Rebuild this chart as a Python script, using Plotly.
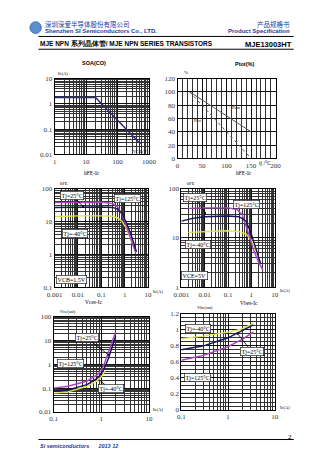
import math
import plotly.graph_objects as go

W, H = 336, 474

# ---------------- data ----------------
# SOA (DC)
soa_vce = [1, 20, 540]
soa_ic = [1.8, 1.8, 0.026]
soa_xticks = [1, 10, 100, 1000]
soa_xtext = ["1", "10", "100", "1000"]
soa_yticks = [0.01, 0.1, 1, 10]
soa_ytext = ["0.01", "0.1", "1", "10"]

# Ptot derating
ptot_t = [25, 150]
ptot_upper = [100, 40]
ptot_lower = [100, 0]
ptot_xticks = [0, 50, 100, 150, 200]
ptot_yticks = [0, 20, 40, 60, 80, 100, 120]

# hFE-Ic, VCE=1.5V
hfe1_ic_125 = [0.001, 0.01, 0.1, 0.3, 0.5, 0.8, 1.2, 2.0, 3.0]
hfe1_125 = [38, 39, 39, 36, 28, 16, 7, 2.5, 1.1]
hfe1_ic_25 = [0.001, 0.01, 0.1, 0.3, 0.5, 0.8, 1.2, 2.0, 3.2]
hfe1_25 = [27, 28, 28, 27, 24, 17, 9, 3.5, 1.2]
hfe1_ic_m40 = [0.001, 0.01, 0.1, 0.3, 0.5, 0.8, 1.2, 2.0, 3.0]
hfe1_m40 = [14, 15, 15, 14.5, 13, 10, 6, 2.5, 1.2]

# hFE-Ic, VCE=5V
hfe2_ic_125 = [0.002, 0.01, 0.1, 0.25, 0.4, 0.7, 1.2, 2.0, 3.2]
hfe2_125 = [40, 41, 41, 38, 30, 14, 6, 3.3, 2.2]
hfe2_ic_25 = [0.001, 0.003, 0.01, 0.1, 0.3, 0.6, 1.0, 1.5, 2.5]
hfe2_25 = [22, 25, 27, 28, 27, 22, 12, 6.5, 3.0]
hfe2_ic_m40 = [0.002, 0.01, 0.1, 0.3, 0.6, 1.0, 1.5, 2.5]
hfe2_m40 = [13, 13.5, 14, 13.5, 12, 9, 6, 3]

ic_ticks = [0.001, 0.01, 0.1, 1, 10]
ic_text = ["0.001", "0.01", "0.1", "1", "10"]

# Vce(sat)-Ic
vce_ic_125 = [0.1, 0.2, 0.5, 0.8, 1.0, 1.2, 1.5, 1.75, 2.0]
vce_125 = [0.1, 0.12, 0.2, 0.35, 0.55, 1.3, 4.5, 11, 23]
vce_ic_25 = [0.1, 0.2, 0.5, 0.8, 1.0, 1.2, 1.4, 1.7, 2.0]
vce_25 = [0.075, 0.085, 0.14, 0.25, 0.4, 0.8, 1.7, 6, 15]
vce_ic_m40 = [0.1, 0.2, 0.5, 0.8, 1.0, 1.2]
vce_m40 = [0.062, 0.07, 0.12, 0.2, 0.3, 0.55]

# Vbe(sat)-Ic
vbe_ic = [0.1, 0.3, 1, 2, 3.5]
vbe_m40 = [0.89, 0.92, 0.97, 1.01, 1.08]
vbe_25 = [0.75, 0.80, 0.90, 0.99, 1.06]
vbe_125 = [0.62, 0.68, 0.79, 0.88, 0.97]

ic2_ticks = [0.1, 1, 10]
ic2_text = ["0.1", "1", "10"]
vce_yticks = [0.01, 0.1, 1, 10, 100]
vce_ytext = ["0.01", "0.1", "1", "10", "100"]
vbe_yticks = [0, 0.2, 0.4, 0.6, 0.8, 1.0, 1.2]
vbe_ytext = ["0", "0.2", "0.4", "0.6", "0.8", "1", "1.2"]

C125 = "#b040c8"
C25 = "#14145a"
CM40 = "#e2e24a"
SERIF = "Liberation Serif"
SANS = "Liberation Sans"


def px(x):
    return x / W


def py(y):
    return 1 - y / H


fig = go.Figure()

# panel domains in pixels: (x0, x1, ytop, ybottom)
panels = {
    1: (49, 148, 76, 153),
    2: (178, 281, 76, 157),
    3: (49, 147, 188, 288),
    4: (182, 280, 188, 288),
    5: (48, 148, 318, 415),
    6: (182, 280, 315, 413),
}

tickfont = dict(family=SERIF, size=7, color="#333")


def log_axis(tv, tt, rng):
    return dict(
        type="log", range=rng, tickmode="array", tickvals=tv, ticktext=tt,
        showgrid=True, gridcolor="#111", gridwidth=0.8,
        minor=dict(showgrid=True, dtick="D1", gridcolor="#333", gridwidth=0.5),
        showline=True, linecolor="#000", linewidth=1, mirror=True,
        ticks="", tickfont=tickfont, zeroline=False, ticklen=0,
    )


def lin_axis(tv, tt, rng, minor_dtick=None):
    d = dict(
        type="linear", range=rng, tickmode="array", tickvals=tv, ticktext=tt,
        showgrid=True, gridcolor="#111", gridwidth=0.8,
        showline=True, linecolor="#000", linewidth=1, mirror=True,
        ticks="", tickfont=tickfont, zeroline=False,
    )
    if minor_dtick:
        d["minor"] = dict(showgrid=True, dtick=minor_dtick, gridcolor="#333", gridwidth=0.5)
    return d


axes = {
    1: (log_axis(soa_xticks, soa_xtext, [0, 3]), log_axis(soa_yticks, soa_ytext, [-2, 1])),
    2: (lin_axis(ptot_xticks, [str(v) for v in ptot_xticks], [0, 200], 10),
        lin_axis(ptot_yticks, [str(v) for v in ptot_yticks], [0, 120])),
    3: (log_axis(ic_ticks, ic_text, [-3, 1]), log_axis([0.1, 1, 10, 100], ["0.1", "1", "10", "100"], [-1, 2])),
    4: (log_axis(ic_ticks, ic_text, [-3, 1]), log_axis([1, 10, 100], ["1", "10", "100"], [0, 2])),
    5: (log_axis(ic2_ticks, ic2_text, [-1, 1]), log_axis(vce_yticks, vce_ytext, [-2, 2])),
    6: (log_axis(ic2_ticks, ic2_text, [-1, 1]), lin_axis(vbe_yticks, vbe_ytext, [0, 1.2], 0.05)),
}

layout_axes = {}
for i, (x0, x1, yt, yb) in panels.items():
    xa, ya = axes[i]
    sfx = "" if i == 1 else str(i)
    xa.update(domain=[px(x0), px(x1)], anchor="y" + sfx)
    ya.update(domain=[py(yb), py(yt)], anchor="x" + sfx)
    layout_axes["xaxis" + sfx] = xa
    layout_axes["yaxis" + sfx] = ya


def add(x, y, i, color, width=1.4, dash="solid"):
    sfx = "" if i == 1 else str(i)
    fig.add_trace(go.Scatter(x=x, y=y, mode="lines", xaxis="x" + sfx, yaxis="y" + sfx,
                             line=dict(color=color, width=width, dash=dash),
                             hoverinfo="skip", showlegend=False))


add(soa_vce, soa_ic, 1, "#2a2a7a", 1.4)
add(ptot_t, ptot_upper, 2, "#555", 1.0)
add(ptot_t, ptot_lower, 2, "#555", 1.0, "dot")
add(hfe1_ic_m40, hfe1_m40, 3, CM40)
add(hfe1_ic_125, hfe1_125, 3, C125)
add(hfe1_ic_25, hfe1_25, 3, C25)
add(hfe2_ic_m40, hfe2_m40, 4, CM40)
add(hfe2_ic_125, hfe2_125, 4, C125)
add(hfe2_ic_25, hfe2_25, 4, C25)
add(vce_ic_m40, vce_m40, 5, CM40)
add(vce_ic_125, vce_125, 5, C125)
add(vce_ic_25, vce_25, 5, C25)
add(vbe_ic, vbe_m40, 6, CM40)
add(vbe_ic, vbe_125, 6, C125)
add(vbe_ic, vbe_25, 6, C25)

ann = []


def text(x, y, s, size=6, color="#000", family=SANS, anchor="center", bold=False, italic=False, yanchor="middle"):
    if bold:
        s = "<b>" + s + "</b>"
    if italic:
        s = "<i>" + s + "</i>"
    ann.append(dict(x=px(x), y=py(y), xref="paper", yref="paper", text=s, showarrow=False,
                    xanchor=anchor, yanchor=yanchor,
                    font=dict(size=size, color=color, family=family)))


def box(x, y, s, head=None):
    d = dict(x=px(x), y=py(y), xref="paper", yref="paper", text=s, showarrow=False,
             xanchor="center", yanchor="middle", bgcolor="#fff", bordercolor="#000",
             borderwidth=0.6, borderpad=1, font=dict(size=6, color="#000", family=SERIF))
    if head is not None:
        d.update(x=px(head[0]), y=py(head[1]), showarrow=True, arrowhead=2, arrowsize=0.6,
                 arrowwidth=0.8, arrowcolor="#000", ax=x - head[0], ay=y - head[1],
                 standoff=0)
    ann.append(d)


# header
text(37, 20, "深圳深爱半导体股份有限公司", size=6.5, color="#1e3c9c", family="Noto Sans CJK SC", anchor="left")
text(37, 27, "Shenzhen SI Semiconductors Co., LTD.", size=6, color="#1e3c9c", anchor="left", bold=True)
text(298, 20, "产品规格书", size=6.5, color="#1e3c9c", family="Noto Sans CJK SC", anchor="right")
text(298, 27, "Product Specification", size=6, color="#1e3c9c", anchor="right", bold=True)
text(32, 41, "MJE NPN 系列晶体管/ MJE NPN SERIES TRANSISTORS", size=6.5, anchor="left", bold=True)
text(300, 41, "MJE13003HT", size=7.5, anchor="right", bold=True)

# footer
text(32, 450, "Si semiconductors      2013 12", size=5.5, color="#1e3c9c", anchor="left", bold=True, italic=True)
text(300, 440, "2", size=7, anchor="right", family=SERIF)

# chart titles
text(90, 60, "SOA(CO)", size=5.5, bold=True)
text(248, 61, "Ptot(%)", size=5.5, bold=True)
text(88, 172, "hFE-Ic", size=5.5, family=SERIF)
text(248, 172, "hFE-Ic", size=5.5, family=SERIF)
text(90, 303, "Vces-Ic", size=5.5, family=SERIF)
text(253, 304, "Vbes-Ic", size=5.5, family=SERIF)

# axis unit hints
text(50, 71, "Ic(A)", size=4.5, anchor="left", family=SERIF)
text(140, 150, "VCE(V)", size=4.5, family=SERIF)
text(183, 70, "%", size=5, anchor="left", family=SERIF)
text(270, 162, "tj /°C", size=5.5, family=SERIF)
text(52, 183, "hFE", size=4.5, anchor="left", family=SERIF)
text(186, 183, "hFE", size=4.5, anchor="left", family=SERIF)
text(150, 292, "Ic(A)", size=4.5, anchor="left", family=SERIF)
text(283, 291, "Ic(A)", size=4.5, anchor="left", family=SERIF)
text(52, 313, "Vce(sat)", size=4.5, anchor="left", family=SERIF)
text(196, 309, "Vbe(sat)", size=4.5, anchor="left", family=SERIF)
text(150, 412, "Ic(A)", size=4.5, anchor="left", family=SERIF)
text(283, 410, "Ic(A)", size=4.5, anchor="left", family=SERIF)

# Ptot curve labels
text(240, 105, "Pcm", size=4.5, family=SERIF)
text(200, 119, "Pcu", size=4.5, family=SERIF)

# annotations
box(68, 195, "Tj=25°C", head=(80, 207))
box(125, 198, "Tj=125°C")
box(70, 233, "Tj=-40°C")
box(67, 280, "VCB=1.5V")

box(197, 197, "Tj=25°C", head=(208, 214))
box(250, 204, "Tj=125°C")
box(200, 245, "Tj=-40°C")
box(196, 276, "VCE=5V")

box(84, 340, "Tj=25°C", head=(107, 358))
box(66, 366, "Tj=125°C")
box(108, 391, "Tj=-40°C", head=(97, 384))

box(200, 330, "Tj=-40°C")
box(255, 353, "Tj=25°C", head=(240, 334))
box(199, 380, "Tj=125°C")

shapes = [
    dict(type="line", xref="paper", yref="paper", x0=px(32), x1=px(300), y0=py(33), y1=py(33),
         line=dict(color="#000", width=1)),
    dict(type="line", xref="paper", yref="paper", x0=px(32), x1=px(300), y0=py(46), y1=py(46),
         line=dict(color="#000", width=1)),
    dict(type="line", xref="paper", yref="paper", x0=px(32), x1=px(300), y0=py(443), y1=py(443),
         line=dict(color="#000", width=1)),
    dict(type="circle", xref="paper", yref="paper", x0=px(23), x1=px(35), y0=py(30), y1=py(18),
         fillcolor="#5b8fd0", line=dict(color="#2f5fa8", width=0.8)),
]

fig.update_layout(
    width=W, height=H, margin=dict(l=0, r=0, t=0, b=0),
    paper_bgcolor="#fff", plot_bgcolor="#fff", showlegend=False,
    annotations=ann, shapes=shapes, **layout_axes,
)

fig.write_html("out.html")
